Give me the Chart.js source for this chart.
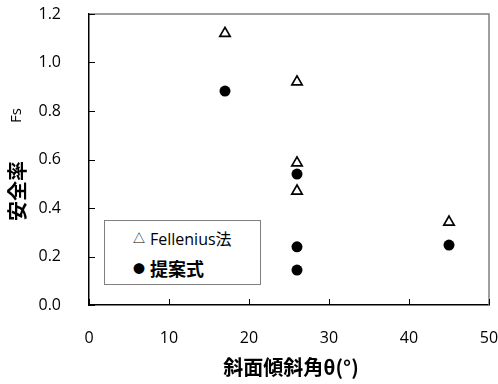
<!DOCTYPE html>
<html>
<head>
<meta charset="utf-8">
<script src="https://cdn.jsdelivr.net/npm/chart.js@4.4.0/dist/chart.umd.min.js"></script>
<style>
  html, body { margin: 0; padding: 0; background: #fff; }
  #wrap { position: relative; width: 498px; height: 384px; }
  #legendBox {
    position: absolute; left: 104px; top: 220px; width: 157px; height: 65px;
    border: 1px solid #808080; background: #fff; box-sizing: border-box;
    font-family: "Open Sans", "Noto Sans CJK JP", sans-serif; color: #000;
  }
  .row { position: absolute; left: 28px; white-space: nowrap; }
  .mk { display: inline-block; width: 17px; font-size: 12px; vertical-align: 2px; }
</style>
</head>
<body>
<div id="wrap">
  <canvas id="myChart" width="498" height="384"></canvas>
  <div id="legendBox">
    <div class="row" style="top:5px;font-size:16px;"><span class="mk">△</span>Fellenius法</div>
    <div class="row" style="top:34px;font-size:18px;font-weight:bold;"><span class="mk">●</span>提案式</div>
  </div>
</div>
<script>
// データ
const fellX = [17, 26, 26, 26, 45];
const fellY = [1.12, 0.92, 0.586, 0.47, 0.342];
const teianX = [17, 26, 26, 26, 45];
const teianY = [0.882, 0.54, 0.24, 0.144, 0.247];
const xTicks = [0, 10, 20, 30, 40, 50];
const yTicks = [0.0, 0.2, 0.4, 0.6, 0.8, 1.0, 1.2];

function pts(xs, ys) {
  return xs.map((x, i) => ({ x: x, y: ys[i] }));
}

// 枠・目盛り・軸タイトル
const extras = {
  id: 'extras',
  afterDraw(chart) {
    const ctx = chart.ctx;
    const a = chart.chartArea;
    const sx = chart.scales.x, sy = chart.scales.y;
    ctx.save();
    // 上と右の枠 (灰色)
    ctx.strokeStyle = '#808080';
    ctx.lineWidth = 1.5;
    ctx.beginPath();
    ctx.moveTo(a.left, a.top); ctx.lineTo(a.right, a.top); ctx.lineTo(a.right, a.bottom);
    ctx.stroke();
    // 内向きの目盛り
    ctx.strokeStyle = '#000';
    ctx.lineWidth = 1;
    ctx.beginPath();
    yTicks.forEach(v => {
      const y = Math.round(sy.getPixelForValue(v)) + 0.5;
      ctx.moveTo(a.left, y); ctx.lineTo(a.left + 6, y);
    });
    xTicks.forEach(v => {
      const x = Math.round(sx.getPixelForValue(v)) + 0.5;
      ctx.moveTo(x, a.bottom); ctx.lineTo(x, a.bottom - 6);
    });
    ctx.stroke();
    // x軸タイトル
    ctx.fillStyle = '#000';
    ctx.textBaseline = 'middle';
    ctx.textAlign = 'center';
    ctx.font = 'bold 20px "Noto Sans CJK JP", sans-serif';
    ctx.fillText('斜面傾斜角θ(°)', 291, 367);
    // y軸タイトル
    ctx.translate(17, 221);
    ctx.rotate(-Math.PI / 2);
    ctx.textAlign = 'left';
    ctx.fillText('安全率', 0, 0);
    ctx.font = '15px "Open Sans", sans-serif';
    ctx.fillText('Fs', 98, 0);
    ctx.restore();
  }
};

const ctx = document.getElementById('myChart').getContext('2d');
const myChart = new Chart(ctx, {
  type: 'scatter',
  data: {
    datasets: [
      {
        label: 'Fellenius法',
        data: pts(fellX, fellY),
        pointStyle: 'triangle',
        pointRadius: 6,
        pointBorderWidth: 1.7,
        borderColor: '#000',
        backgroundColor: '#fff'
      },
      {
        label: '提案式',
        data: pts(teianX, teianY),
        pointStyle: 'circle',
        pointRadius: 5.5,
        pointBorderWidth: 0,
        borderColor: '#000',
        backgroundColor: '#000'
      }
    ]
  },
  options: {
    responsive: false,
    animation: false,
    layout: { padding: { left: 0, right: 9, top: 14, bottom: 0 } },
    plugins: { legend: { display: false }, tooltip: { enabled: false } },
    scales: {
      x: {
        type: 'linear', min: 0, max: 50,
        afterBuildTicks: s => { s.ticks = xTicks.map(v => ({ value: v })); },
        afterFit: s => { s.height = 79; s.paddingLeft = 0; s.paddingRight = 0; },
        grid: { display: false },
        border: { display: true, color: '#000', width: 1.5 },
        ticks: {
          padding: 16, color: '#000',
          font: { family: '"Open Sans", sans-serif', size: 16 },
          maxRotation: 0
        }
      },
      y: {
        type: 'linear', min: 0, max: 1.2,
        afterBuildTicks: s => { s.ticks = yTicks.map(v => ({ value: v })); },
        afterFit: s => { s.width = 89; s.paddingTop = 0; s.paddingBottom = 0; },
        grid: { display: false },
        border: { display: true, color: '#000', width: 1.5 },
        ticks: {
          padding: 20, color: '#000',
          font: { family: '"Open Sans", sans-serif', size: 16 },
          callback: v => v.toFixed(1)
        }
      }
    }
  },
  plugins: [extras]
});
</script>
</body>
</html>
